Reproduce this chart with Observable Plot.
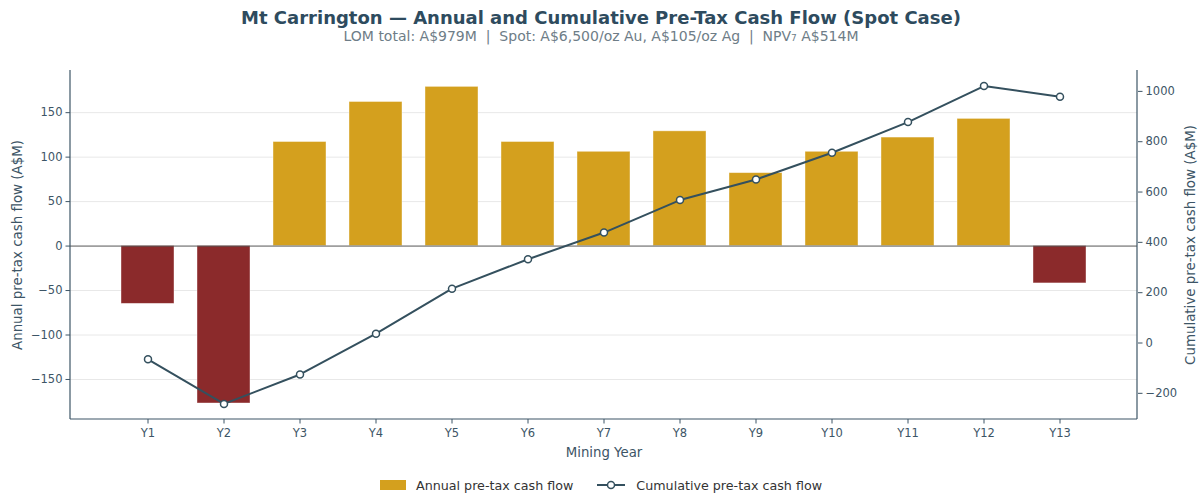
<!DOCTYPE html>
<html><head><meta charset="utf-8">
<script src="https://cdn.jsdelivr.net/npm/d3@7"></script>
<script src="https://cdn.jsdelivr.net/npm/@observablehq/plot@0.6"></script>
<style>
body{margin:0;background:#fff;font-family:"DejaVu Sans",sans-serif;}
#root{position:relative;width:1202px;height:497px;overflow:hidden;background:#fff}
#title{position:absolute;left:0;top:7px;width:1202px;text-align:center;font-weight:bold;font-size:18px;line-height:22px;color:#2e4b5e}
#subtitle{position:absolute;left:0;top:27px;width:1202px;text-align:center;font-size:14px;line-height:18px;color:#6e7d87}
#chart{position:absolute;left:0;top:50px;width:1202px;height:420px}
#chart svg{position:absolute;left:0;top:0;background:transparent}
#legend{position:absolute;left:0;top:476px;width:1202px;height:18px;display:flex;justify-content:center;align-items:center;font-size:12.7px;color:#333}
.item{display:flex;align-items:center}
.item + .item{margin-left:24px}
.patch{width:26px;height:10px;background:#D4A01E;margin-right:10px}
.lsw{width:28px;height:12px;margin-right:11px}
</style></head><body>
<div id="root">
  <div id="title">Mt Carrington — Annual and Cumulative Pre-Tax Cash Flow (Spot Case)</div>
  <div id="subtitle">LOM total: A$979M &nbsp;|&nbsp; Spot: A$6,500/oz Au, A$105/oz Ag &nbsp;|&nbsp; NPV₇ A$514M</div>
  <div id="chart"></div>
  <div id="legend">
    <div class="item"><div class="patch"></div><span>Annual pre-tax cash flow</span></div>
    <div class="item"><svg class="lsw" width="28" height="12"><line x1="0" y1="6" x2="28" y2="6" stroke="#34505e" stroke-width="2"/><circle cx="14" cy="6" r="3.5" fill="#fff" stroke="#34505e" stroke-width="1.5"/></svg><span>Cumulative pre-tax cash flow</span></div>
  </div>
</div>
<script>
const years = ["Y1","Y2","Y3","Y4","Y5","Y6","Y7","Y8","Y9","Y10","Y11","Y12","Y13"];
const annual = [-65,-177,117,162,179,117,106,129,82,106,122,143,-42];
const cumulative = [-65,-242,-125,37,216,333,439,568,650,756,878,1021,979];
const leftTicks = [-150,-100,-50,0,50,100,150];
const rightTicks = [-200,0,200,400,600,800,1000];
const leftDomain = [-195,197.4];
const rightDomain = [-304,1083];
const xLabel = "Mining Year";
const yLeftLabel = "Annual pre-tax cash flow (A$M)";
const yRightLabel = "Cumulative pre-tax cash flow (A$M)";

const GOLD="#D4A01E", RED="#8B2A2B", LINE="#34505e", AXIS="#3d5566", TXT="#3d5566";

const rows = years.map((y,i)=>({year:y, annual:annual[i], cumulative:cumulative[i]}));
const fmt = d => d < 0 ? "\u2212" + Math.abs(d) : String(d);

const W=1202, H=420;
const M={marginTop:20, marginBottom:51, marginLeft:70, marginRight:65};
const xScale={type:"band", domain:years, paddingInner:0.3, paddingOuter:0.65};
const style={fontFamily:"DejaVu Sans, sans-serif", fontSize:"11.5px", color:TXT, background:"transparent"};

function spines(sides){
  return (index, scales, values, d) => {
    const g = d3.create("svg:g").attr("stroke", AXIS).attr("stroke-width", 1.2).attr("fill","none");
    const x0=d.marginLeft, x1=d.width-d.marginRight, y0=d.marginTop, y1=d.height-d.marginBottom;
    if (sides.includes("left")) g.append("line").attr("x1",x0).attr("x2",x0).attr("y1",y0).attr("y2",y1);
    if (sides.includes("right")) g.append("line").attr("x1",x1).attr("x2",x1).attr("y1",y0).attr("y2",y1);
    if (sides.includes("bottom")) g.append("line").attr("x1",x0).attr("x2",x1).attr("y1",y1).attr("y2",y1);
    return g.node();
  };
}

const p1 = Plot.plot({
  width:W, height:H, ...M, style,
  x:xScale,
  y:{domain:leftDomain},
  marks:[
    Plot.ruleY(leftTicks.filter(t=>t!==0), {stroke:"#e8e8e8", strokeWidth:1}),
    Plot.barY(rows, {x:"year", y:"annual", fill:d=>d.annual<0?RED:GOLD, stroke:"#fff", strokeOpacity:0.5, strokeWidth:0.8}),
    Plot.ruleY([0], {stroke:"#555", strokeWidth:1}),
    Plot.axisX({tickSize:4.5, tickPadding:5, stroke:AXIS, label:null}),
    Plot.axisY({ticks:leftTicks, tickFormat:fmt, tickSize:4.5, tickPadding:3.5, stroke:AXIS, label:null}),
    Plot.text([xLabel], {frameAnchor:"bottom", dy:33, lineAnchor:"middle", textAnchor:"middle", fontSize:13.3, fill:TXT}),
    Plot.text([yLeftLabel], {frameAnchor:"left", dx:-52.5, rotate:-90, lineAnchor:"middle", textAnchor:"middle", fontSize:13.4, fill:TXT}),
    spines(["left","bottom"])
  ]
});

const p2 = Plot.plot({
  width:W, height:H, ...M, style,
  x:{...xScale, axis:null},
  y:{domain:rightDomain, axis:null},
  marks:[
    Plot.line(rows, {x:"year", y:"cumulative", stroke:LINE, strokeWidth:2}),
    Plot.dot(rows, {x:"year", y:"cumulative", r:3.5, fill:"#fff", stroke:LINE, strokeWidth:1.5}),
    Plot.axisY({anchor:"right", ticks:rightTicks, tickFormat:fmt, tickSize:4.5, tickPadding:3.5, stroke:AXIS, label:null}),
    Plot.text([yRightLabel], {frameAnchor:"right", dx:53, rotate:-90, lineAnchor:"middle", textAnchor:"middle", fontSize:13.4, fill:TXT}),
    spines(["right"])
  ]
});

document.getElementById("chart").append(p1, p2);
</script>
</body></html>
